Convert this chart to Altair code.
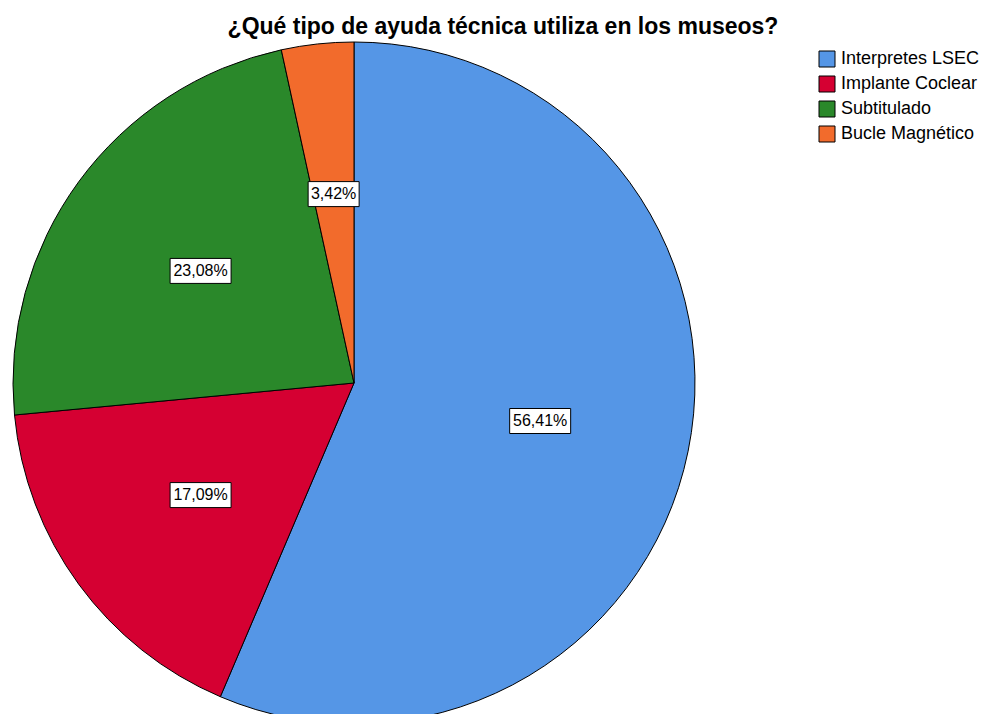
import altair as alt
import pandas as pd

# Data
categories = ["Interpretes LSEC", "Implante Coclear", "Subtitulado", "Bucle Magnético"]
counts = [66, 20, 27, 4]
colors = ["#5596E6", "#D50032", "#2A882A", "#F26B2C"]
title_text = "¿Qué tipo de ayuda técnica utiliza en los museos?"

df = pd.DataFrame({"categoria": categories, "n": counts, "idx": list(range(len(categories)))})

# Geometry (view coordinates)
CX, CY, R = 346, 341, 341
LR = 190

base = alt.Chart(df)

pie = base.mark_arc(stroke="black", strokeWidth=1, radius=R).encode(
    theta=alt.Theta("n:Q", stack=True),
    color=alt.Color(
        "categoria:N",
        scale=alt.Scale(domain=categories, range=colors),
        sort=categories,
        legend=alt.Legend(
            orient="none", legendX=810, legendY=8, title=None,
            symbolType="square", symbolSize=256, symbolStrokeColor="black",
            symbolStrokeWidth=1, symbolOpacity=1,
            labelFontSize=18, labelFont="Liberation Sans", labelColor="black",
            rowPadding=5, labelOffset=5, padding=0,
        ),
    ),
    order=alt.Order("idx:Q"),
    x=alt.value(CX),
    y=alt.value(CY),
)

labels = (
    base.transform_joinaggregate(total="sum(n)")
    .transform_window(cum="sum(n)", sort=[alt.SortField("idx")], frame=[None, 0])
    .transform_calculate(
        pct="100*datum.n/datum.total",
        mid="2*PI*(datum.cum - datum.n/2)/datum.total",
    )
    .transform_calculate(
        lx=f"{CX} + {LR}*sin(datum.mid)",
        ly=f"{CY} - {LR}*cos(datum.mid)",
        label="replace(format(datum.pct, '.2f'), '.', ',') + '%'",
    )
    .transform_calculate(w="10*length(datum.label) + 1")
    .transform_calculate(
        x1="datum.lx - datum.w/2",
        x2="datum.lx + datum.w/2",
        y1="datum.ly - 12.5",
        y2="datum.ly + 12.5",
    )
)

boxes = labels.mark_rect(fill="white", stroke="black", strokeWidth=1).encode(
    x=alt.X("x1:Q", scale=None, axis=None),
    x2="x2:Q",
    y=alt.Y("y1:Q", scale=None, axis=None),
    y2="y2:Q",
)

texts = labels.mark_text(fontSize=16, font="Liberation Sans", color="black").encode(
    x=alt.X("lx:Q", scale=None, axis=None),
    y=alt.Y("ly:Q", scale=None, axis=None),
    text="label:N",
)

chart = (
    alt.layer(pie, boxes, texts)
    .properties(
        width=974,
        height=672,
        autosize=alt.AutoSizeParams(type="none"),
        padding={"left": 0, "top": 34, "right": 0, "bottom": 0},
        title=alt.Title(
            title_text, fontSize=23, fontWeight="bold", font="Liberation Sans",
            anchor="middle", dx=8, offset=-17, baseline="alphabetic", color="black",
        ),
    )
    .configure_view(stroke=None)
)

chart.save("out.html", embed_options={"renderer": "svg", "actions": False})
